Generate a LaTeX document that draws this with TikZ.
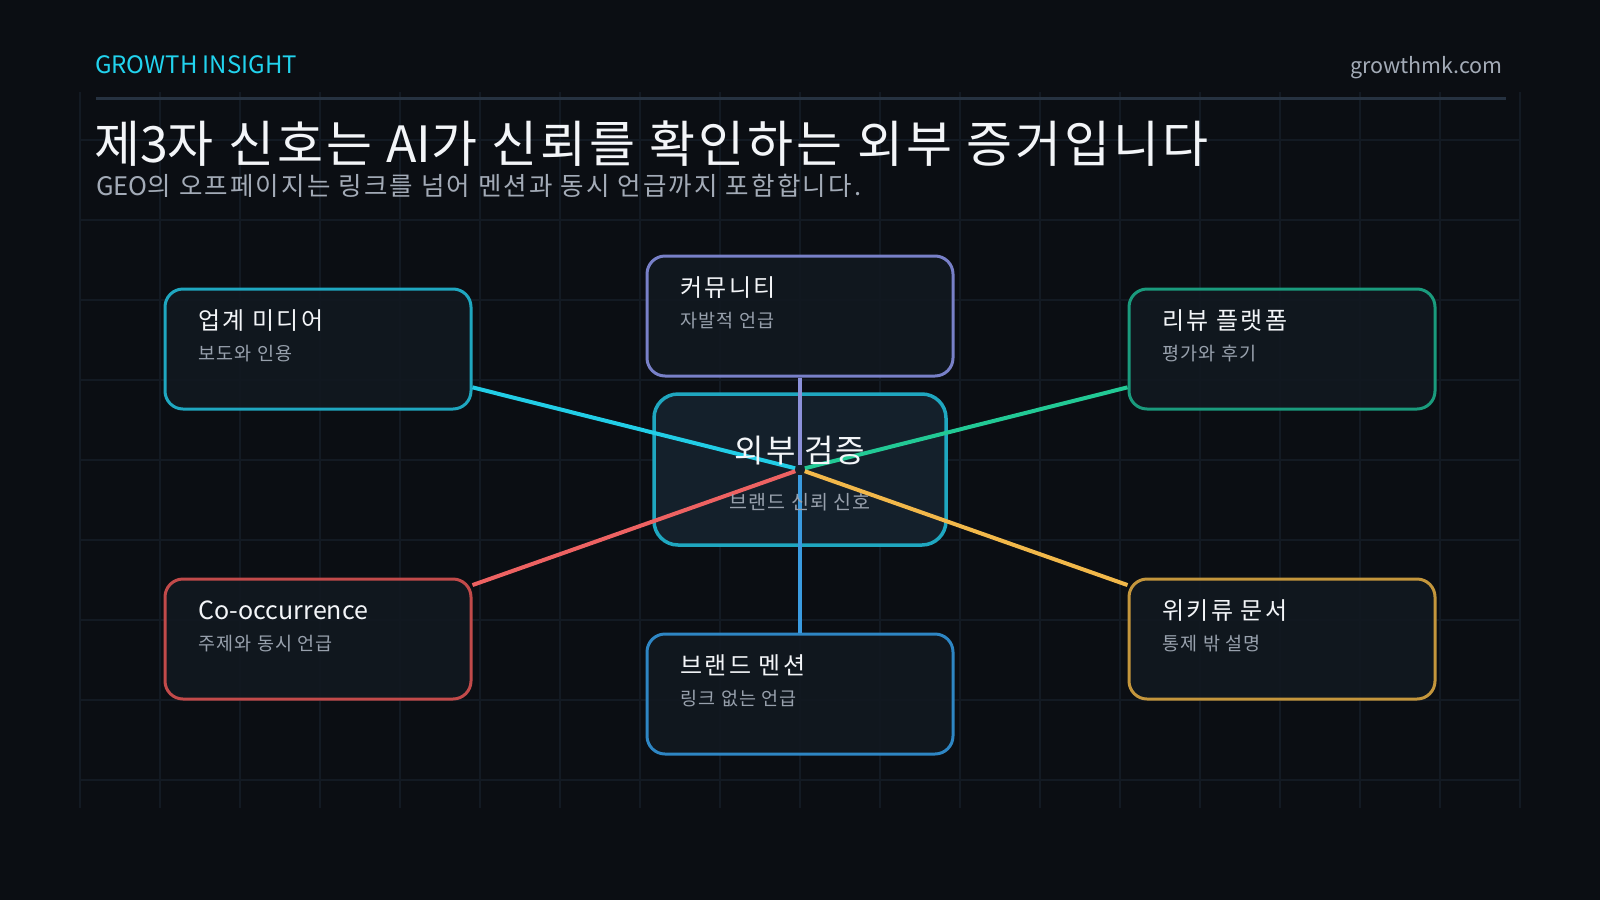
\documentclass[tikz,border=0pt]{standalone}
\usepackage{fontspec}
\setmainfont{Noto Sans CJK KR}[LetterSpace=6]
\newfontfamily\latinfont{Noto Sans CJK KR}
\newfontfamily\cardfont{Noto Sans CJK KR}[LetterSpace=9]
\newfontfamily\leadfont{Noto Sans CJK KR}[LetterSpace=8.5]

\definecolor{bgdark}{HTML}{0B0E13}
\definecolor{gridcol}{HTML}{131A23}
\definecolor{rulecol}{HTML}{263241}
\definecolor{cardfill}{HTML}{111820}
\definecolor{hubfill}{HTML}{14202B}
\definecolor{titlewhite}{HTML}{F3F5F8}
\definecolor{subgray}{HTML}{A3ABB7}
\definecolor{smallgray}{HTML}{98A1AD}
\definecolor{accent}{HTML}{22D3EE}
\definecolor{cyanedge}{HTML}{1FA7C0}
\definecolor{cyanline}{HTML}{22CDE6}
\definecolor{purpleedge}{HTML}{7880C8}
\definecolor{purpleline}{HTML}{8C91DA}
\definecolor{greenedge}{HTML}{1A9B7D}
\definecolor{greenline}{HTML}{22C995}
\definecolor{rededge}{HTML}{C24A4A}
\definecolor{redline}{HTML}{EE6262}
\definecolor{blueedge}{HTML}{2E86C4}
\definecolor{blueline}{HTML}{3A9BE0}
\definecolor{goldedge}{HTML}{C4963C}
\definecolor{goldline}{HTML}{F2B84A}

\begin{document}
\begin{tikzpicture}[x=1pt,y=-1pt,
  card/.style={draw, line width=3pt, rounded corners=18pt, fill=cardfill, fill opacity=0.92,
    minimum width=306pt, minimum height=120pt, inner sep=0pt},
  hubbox/.style={draw=cyanedge, line width=3.5pt, rounded corners=24pt, fill=hubfill,
    minimum width=292pt, minimum height=151pt, inner sep=0pt},
  cardtitle/.style={anchor=base west, inner sep=0pt, text=titlewhite, font=\cardfont\fontsize{24}{28}\selectfont},
  cardsub/.style={anchor=base west, inner sep=0pt, text=smallgray, font=\fontsize{18.5}{22}\selectfont},
  link/.style={line width=4pt, shorten >=5pt},
  gridline/.style={gridcol, line width=1.2pt}]

% Background and page frame
\fill[bgdark] (0,0) rectangle (1600,900);
\useasboundingbox (0,0) rectangle (1600,900);

% Faint grid
\foreach \gx in {80,160,...,1520}
  \draw[gridline] (\gx,92) -- (\gx,808);
\foreach \gy in {140,220,...,780}
  \draw[gridline] (80,\gy) -- (1520,\gy);

% Header
\node[anchor=base west, inner sep=0pt, text=accent, font=\latinfont\fontsize{24}{26}\selectfont] (brand) at (95,73) {GROWTH INSIGHT};
\node[anchor=base east, inner sep=0pt, text=subgray, font=\latinfont\fontsize{21.5}{26}\selectfont] (site) at (1503,73) {growthmk.com};
\draw[rulecol, line width=3pt] (96,98) -- (1506,98);
\node[anchor=base west, inner sep=0pt, text=titlewhite, font=\fontsize{50}{56}\selectfont] (headline) at (94,162) {제{\latinfont 3}자 신호는 {\latinfont AI}가 신뢰를 확인하는 외부 증거입니다};
\node[anchor=base west, inner sep=0pt, text=subgray, font=\leadfont\fontsize{25.5}{30}\selectfont] (subline) at (96,195) {{\latinfont GEO}의 오프페이지는 링크를 넘어 멘션과 동시 언급까지 포함합니다.};

% Center box
\node[hubbox] (hub) at (800,469.5) {};

% Outer cards
\node[card, draw=cyanedge] (media) at (318,349) {};
\node[card, draw=purpleedge] (community) at (800,316) {};
\node[card, draw=greenedge] (review) at (1282,349) {};
\node[card, draw=rededge] (cooc) at (318,639) {};
\node[card, draw=blueedge] (mention) at (800,694) {};
\node[card, draw=goldedge] (wiki) at (1282,639) {};

% Connectors
\draw[link, cyanline] (media) -- (hub.center);
\draw[link, purpleline] (community) -- (hub.center);
\draw[link, greenline] (review) -- (hub.center);
\draw[link, redline] (cooc) -- (hub.center);
\draw[link, blueline] (mention) -- (hub.center);
\draw[link, goldline] (wiki) -- (hub.center);

% Center labels
\node[anchor=base, inner sep=0pt, text=titlewhite, font=\fontsize{32}{36}\selectfont] (hubtitle) at (800,462) {외부 검증};
\node[anchor=base, inner sep=0pt, text=smallgray, font=\fontsize{19.5}{22}\selectfont] (hubsub) at (800,509) {브랜드 신뢰 신호};

% Card labels
\node[cardtitle] (mediatitle) at ([xshift=35pt,yshift=-42pt]media.north west) {업계 미디어};
\node[cardsub] (mediasub) at ([xshift=35pt,yshift=-73pt]media.north west) {보도와 인용};
\node[cardtitle] (communitytitle) at ([xshift=35pt,yshift=-42pt]community.north west) {커뮤니티};
\node[cardsub] (communitysub) at ([xshift=35pt,yshift=-73pt]community.north west) {자발적 언급};
\node[cardtitle] (reviewtitle) at ([xshift=35pt,yshift=-42pt]review.north west) {리뷰 플랫폼};
\node[cardsub] (reviewsub) at ([xshift=35pt,yshift=-73pt]review.north west) {평가와 후기};
\node[cardtitle, font=\latinfont\fontsize{25}{28}\selectfont] (cooctitle) at ([xshift=35pt,yshift=-42pt]cooc.north west) {Co-occurrence};
\node[cardsub] (coocsub) at ([xshift=35pt,yshift=-73pt]cooc.north west) {주제와 동시 언급};
\node[cardtitle] (mentiontitle) at ([xshift=35pt,yshift=-42pt]mention.north west) {브랜드 멘션};
\node[cardsub] (mentionsub) at ([xshift=35pt,yshift=-73pt]mention.north west) {링크 없는 언급};
\node[cardtitle] (wikititle) at ([xshift=35pt,yshift=-42pt]wiki.north west) {위키류 문서};
\node[cardsub] (wikisub) at ([xshift=35pt,yshift=-73pt]wiki.north west) {통제 밖 설명};
\end{tikzpicture}
\end{document}
